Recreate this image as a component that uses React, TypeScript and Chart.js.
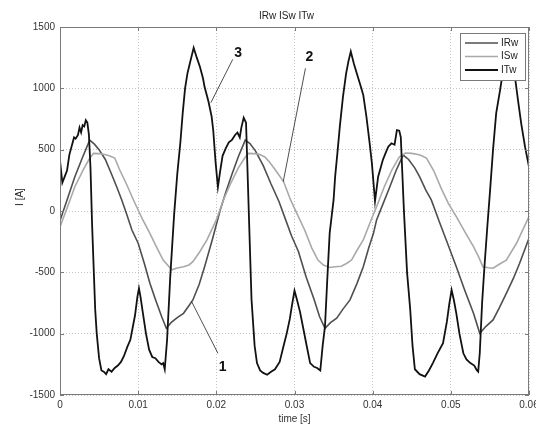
import React, { useEffect, useRef } from 'react';
import { Chart, registerables } from 'chart.js';

Chart.register(...registerables);

const FONT = '"Liberation Sans", Arial, sans-serif';

const chartTitle = 'IRw ISw ITw';
const xAxisTitle = 'time [s]';
const yAxisTitle = 'I [A]';

const xTickValues = [0, 0.01, 0.02, 0.03, 0.04, 0.05, 0.06];
const xTickLabels = ['0', '0.01', '0.02', '0.03', '0.04', '0.05', '0.06'];
const yTickValues = [-1500, -1000, -500, 0, 500, 1000, 1500];
const yTickLabels = ['-1500', '-1000', '-500', '0', '500', '1000', '1500'];

const seriesNames = ['IRw', 'ISw', 'ITw'];
const seriesColors = ['#4f4f4f', '#a9a9a9', '#121212'];
const seriesWidths = [1.6, 1.6, 1.8];

// IRw (curve 1)
const irwTime = [
  0.0, 0.0009, 0.0019, 0.0029, 0.0038, 0.0044, 0.005, 0.0058, 0.0066, 0.0073, 0.0079, 0.0085, 0.0092,
  0.01, 0.0108, 0.0115, 0.0122, 0.013, 0.0136, 0.0142, 0.015, 0.0158, 0.0164, 0.017, 0.0178, 0.0185,
  0.0195, 0.0205, 0.0212, 0.022, 0.0228, 0.0237, 0.0243, 0.025, 0.026, 0.027, 0.028, 0.0288, 0.0296,
  0.0305, 0.0315, 0.0325, 0.0332, 0.0339, 0.0346, 0.0354, 0.0362, 0.0371, 0.038, 0.0388, 0.0395,
  0.0401, 0.0405, 0.0414, 0.0422, 0.043, 0.0439, 0.0446, 0.0454, 0.046, 0.0468, 0.0475, 0.0486,
  0.0495, 0.0507, 0.0518, 0.0529, 0.0537, 0.0545, 0.0554, 0.0562, 0.0571, 0.058, 0.0588, 0.06,
];
const irwValues = [
  -80, 90, 280, 440, 578, 545, 500, 420, 300, 190, 90, -20, -155,
  -263, -430, -589, -720, -860, -956, -910, -870, -834, -780, -725, -600, -454,
  -230, 8, 150, 300, 440, 578, 550, 490, 370, 220, 80, -60, -200,
  -330, -540, -720, -860, -956, -910, -873, -800, -725, -590, -454, -300,
  -182, -73, 70, 198, 330, 456, 420, 350, 280, 170, 90, -100,
  -250, -454, -650, -834, -997, -940, -888, -790, -671, -550, -426, -223,
];

// ISw (curve 2)
const iswTime = [
  0.0, 0.001, 0.0019, 0.003, 0.0038, 0.0043, 0.005, 0.0056, 0.0063, 0.007, 0.0076, 0.0085, 0.0094,
  0.0105, 0.0115, 0.0124, 0.0132, 0.0143, 0.015, 0.0158, 0.0165, 0.017, 0.0179, 0.0188, 0.02, 0.0209,
  0.0218, 0.0228, 0.0236, 0.0241, 0.0248, 0.0255, 0.0262, 0.0268, 0.0276, 0.0286, 0.0295, 0.0303,
  0.0313, 0.0322, 0.033, 0.0337, 0.0345, 0.0352, 0.036, 0.0367, 0.0373, 0.038, 0.0388, 0.0398, 0.0405,
  0.0415, 0.0425, 0.0434, 0.0442, 0.045, 0.0458, 0.0463, 0.0469, 0.0478, 0.0488, 0.0497, 0.0507,
  0.0518, 0.0529, 0.0536, 0.0541, 0.0548, 0.0554, 0.0563, 0.0571, 0.0584, 0.06,
];
const iswValues = [
  -130, 40, 198, 340, 430, 470, 468, 462, 450, 432, 340, 220, 90,
  -60, -182, -300, -400, -480, -465, -454, -440, -413, -330, -236, -73, 90,
  220, 350, 430, 470, 468, 462, 440, 400, 330, 240, 90, -20,
  -155, -300, -400, -440, -460, -455, -450, -426, -400, -320, -236, -73, 35,
  200, 340, 440, 473, 470, 460, 450, 430, 330, 180, 60, -46,
  -170, -291, -380, -454, -462, -467, -430, -400, -263, -46,
];

// ITw (curve 3)
const itwTime = [
  0.0, 0.0003, 0.0006, 0.0009, 0.0012, 0.0015, 0.0018, 0.002, 0.0023, 0.0025, 0.0027, 0.0029, 0.0031,
  0.0033, 0.0035, 0.0037, 0.0039, 0.0041, 0.0043, 0.0045, 0.0047, 0.005, 0.0053, 0.0056, 0.0059, 0.0062,
  0.0066, 0.007, 0.0074, 0.0078, 0.0082, 0.0086, 0.009, 0.0093, 0.0096, 0.0099, 0.0101, 0.0103, 0.0106,
  0.011, 0.0114, 0.0118, 0.0122, 0.0126, 0.013, 0.0132, 0.0134, 0.0137, 0.0141, 0.0146, 0.015, 0.0154,
  0.0157, 0.016, 0.0163, 0.0166, 0.0171, 0.0175, 0.0179, 0.0183, 0.0185, 0.0188, 0.019, 0.0194, 0.0196,
  0.0199, 0.0202, 0.0205, 0.0208, 0.0212, 0.0216, 0.022, 0.0224, 0.0227, 0.023, 0.0232, 0.0235, 0.0238,
  0.0241, 0.0245, 0.0249, 0.0252, 0.0256, 0.026, 0.0265, 0.027, 0.0275, 0.0281, 0.0286, 0.029, 0.0294,
  0.0297, 0.03, 0.0303, 0.0307, 0.0311, 0.0315, 0.032, 0.0325, 0.0329, 0.0333, 0.0336, 0.0339, 0.0342,
  0.0345, 0.035, 0.0352, 0.0355, 0.0358, 0.0362, 0.0366, 0.0369, 0.0372, 0.0376, 0.0381, 0.0385, 0.0388,
  0.0392, 0.0396, 0.0399, 0.0403, 0.0407, 0.0413, 0.0417, 0.042, 0.0424, 0.0428, 0.0431, 0.0434, 0.0436,
  0.0438, 0.044, 0.0444, 0.0448, 0.0451, 0.0454, 0.046, 0.0467, 0.0472, 0.0477, 0.0483, 0.049, 0.0495,
  0.0498, 0.0501, 0.0504, 0.0507, 0.0511, 0.0516, 0.052, 0.0525, 0.053, 0.0533, 0.0535, 0.0537, 0.054,
  0.0543, 0.0547, 0.055, 0.0554, 0.0558, 0.0563, 0.0567, 0.0572, 0.0577, 0.0582, 0.0586, 0.059, 0.0595,
  0.06,
];
const itwValues = [
  410, 230, 280, 330, 460, 530, 600, 590, 620, 680, 640, 700, 690,
  740, 720, 620, 350, -100, -450, -800, -1000, -1200, -1300, -1310, -1330, -1290,
  -1310, -1280, -1260, -1230, -1180, -1110, -1050, -950, -850, -700, -630, -700, -830,
  -1000, -1130, -1190, -1200, -1230, -1250, -1240, -1290, -1050, -540, -30, 300, 560,
  800, 1000, 1120, 1200, 1330, 1250, 1176, 1080, 1010, 940, 890, 770, 660,
  400, 195, 330, 450, 510, 560, 580, 620, 640, 600, 680, 760, 720,
  100, -720, -1100, -1240, -1300, -1320, -1335, -1310, -1290, -1230, -1100, -1000, -880,
  -760, -650, -720, -820, -950, -1080, -1240, -1270, -1280, -1300, -1100, -940, -550,
  -180, 90, 280, 480, 690, 930, 1120, 1220, 1300, 1200, 1095, 1010, 945,
  770, 560, 390, 80, 280, 416, 480, 524, 552, 540, 660, 655, 600,
  300, 0, -500, -800, -1100, -1290, -1330, -1350, -1300, -1240, -1160, -1078, -900,
  -760, -644, -730, -834, -1000, -1160, -1210, -1240, -1260, -1296, -1310, -1160, -750,
  -454, -100, 150, 500, 796, 986, 1150, 1300, 1220, 1095, 900, 715, 520,
  360,
];

// Curve numbering labels ("1", "2", "3") with leader lines, in data units
const markerLabels = ['1', '2', '3'];
const markerLabelX = [0.0208, 0.0319, 0.0228];
const markerLabelY = [-1269, 1258, 1285];
const markerLeadFromX = [0.0202, 0.0314, 0.0221];
const markerLeadFromY = [-1160, 1163, 1236];
const markerLeadToX = [0.01684, 0.02856, 0.0193];
const markerLeadToY = [-739, 239, 883];

const seriesTimes = [irwTime, iswTime, itwTime];
const seriesValues = [irwValues, iswValues, itwValues];

const overlayPlugin = {
  id: 'overlay',
  afterDatasetsDraw(chart: any) {
    const { ctx, chartArea: a, scales } = chart;
    const x = scales.x;
    const y = scales.y;
    ctx.save();

    // axes frame
    ctx.strokeStyle = '#7a7a7a';
    ctx.lineWidth = 1;
    ctx.setLineDash([]);
    ctx.strokeRect(a.left + 0.5, a.top + 0.5, a.right - a.left - 1, a.bottom - a.top - 1);

    // inward tick marks
    ctx.beginPath();
    xTickValues.forEach((v) => {
      const px = Math.round(x.getPixelForValue(v)) + 0.5;
      ctx.moveTo(px, a.bottom);
      ctx.lineTo(px, a.bottom - 4);
      ctx.moveTo(px, a.top);
      ctx.lineTo(px, a.top + 4);
    });
    yTickValues.forEach((v) => {
      const py = Math.round(y.getPixelForValue(v)) + 0.5;
      ctx.moveTo(a.left, py);
      ctx.lineTo(a.left + 4, py);
      ctx.moveTo(a.right, py);
      ctx.lineTo(a.right - 4, py);
    });
    ctx.stroke();

    // curve numbering with leader lines
    ctx.strokeStyle = '#222';
    ctx.lineWidth = 0.8;
    markerLabels.forEach((lab, i) => {
      ctx.beginPath();
      ctx.moveTo(x.getPixelForValue(markerLeadFromX[i]), y.getPixelForValue(markerLeadFromY[i]));
      ctx.lineTo(x.getPixelForValue(markerLeadToX[i]), y.getPixelForValue(markerLeadToY[i]));
      ctx.stroke();
      ctx.fillStyle = '#111';
      ctx.font = `bold 14px ${FONT}`;
      ctx.textAlign = 'center';
      ctx.textBaseline = 'middle';
      ctx.fillText(lab, x.getPixelForValue(markerLabelX[i]), y.getPixelForValue(markerLabelY[i]));
    });

    // legend box (inside axes, top right)
    const bw = 65;
    const bh = 47;
    const bx = a.right - 4 - bw;
    const by = a.top + 6;
    ctx.fillStyle = '#ffffff';
    ctx.fillRect(bx, by, bw, bh);
    ctx.strokeStyle = '#7a7a7a';
    ctx.lineWidth = 1;
    ctx.strokeRect(bx + 0.5, by + 0.5, bw, bh);
    ctx.font = `10px ${FONT}`;
    ctx.textAlign = 'left';
    ctx.textBaseline = 'middle';
    seriesNames.forEach((name, i) => {
      const ry = by + 10 + i * 13.5;
      ctx.strokeStyle = seriesColors[i];
      ctx.lineWidth = seriesWidths[i];
      ctx.beginPath();
      ctx.moveTo(bx + 5, ry);
      ctx.lineTo(bx + 38, ry);
      ctx.stroke();
      ctx.fillStyle = '#222';
      ctx.fillText(name, bx + 41, ry);
    });

    // chart title
    ctx.fillStyle = '#222';
    ctx.font = `10px ${FONT}`;
    ctx.textAlign = 'center';
    ctx.textBaseline = 'middle';
    ctx.fillText(chartTitle, (a.left + a.right) / 2 - 8, a.top - 11);

    // y axis title
    ctx.save();
    ctx.translate(20, (a.top + a.bottom) / 2 - 14);
    ctx.rotate(-Math.PI / 2);
    ctx.fillText(yAxisTitle, 0, 0);
    ctx.restore();

    ctx.restore();
  },
};

export default function App() {
  const canvasRef = useRef<HTMLCanvasElement | null>(null);

  useEffect(() => {
    const canvas = canvasRef.current;
    if (!canvas) return;
    const datasets = seriesNames.map((name, i) => ({
      label: name,
      data: seriesTimes[i].map((t, k) => ({ x: t, y: seriesValues[i][k] })),
      borderColor: seriesColors[i],
      backgroundColor: seriesColors[i],
      borderWidth: seriesWidths[i],
      pointRadius: 0,
      tension: 0,
      fill: false,
      order: 2 - i,
    }));

    const tickFont = { family: FONT, size: 10 };

    const chart = new Chart(canvas, {
      type: 'line',
      data: { datasets },
      options: {
        animation: false,
        responsive: false,
        devicePixelRatio: 1,
        layout: { padding: { top: 27, right: 7, bottom: 0, left: 0 } },
        plugins: {
          legend: { display: false },
          title: { display: false },
          tooltip: { enabled: false },
        },
        scales: {
          x: {
            type: 'linear',
            min: 0,
            max: 0.06,
            afterBuildTicks: (s: any) => {
              s.ticks = xTickValues.map((v) => ({ value: v }));
            },
            afterFit: (s: any) => {
              s.height = 30;
              s.paddingLeft = 0;
              s.paddingRight = 0;
            },
            ticks: {
              callback: (_v: any, i: number) => xTickLabels[i],
              padding: 4,
              font: tickFont,
              color: '#333',
              maxRotation: 0,
              autoSkip: false,
            },
            grid: { color: '#c4c4c4', lineWidth: 1, drawTicks: false },
            border: { display: false, dash: [1, 2] },
            title: {
              display: true,
              text: xAxisTitle,
              font: tickFont,
              color: '#333',
              padding: { top: 0, bottom: 0 },
            },
          },
          y: {
            type: 'linear',
            min: -1500,
            max: 1500,
            afterBuildTicks: (s: any) => {
              s.ticks = yTickValues.map((v) => ({ value: v }));
            },
            afterFit: (s: any) => {
              s.width = 60;
              s.paddingTop = 0;
              s.paddingBottom = 0;
            },
            ticks: {
              callback: (_v: any, i: number) => yTickLabels[i],
              padding: 5,
              font: tickFont,
              color: '#333',
              autoSkip: false,
            },
            grid: { color: '#c4c4c4', lineWidth: 1, drawTicks: false },
            border: { display: false, dash: [1, 2] },
          },
        },
      },
      plugins: [overlayPlugin],
    } as any);

    return () => chart.destroy();
  }, []);

  return (
    <div style={{ position: 'fixed', left: 0, top: 0, width: 536, height: 425, background: '#fff' }}>
      <canvas ref={canvasRef} width={536} height={425} style={{ width: 536, height: 425, display: 'block' }} />
    </div>
  );
}
